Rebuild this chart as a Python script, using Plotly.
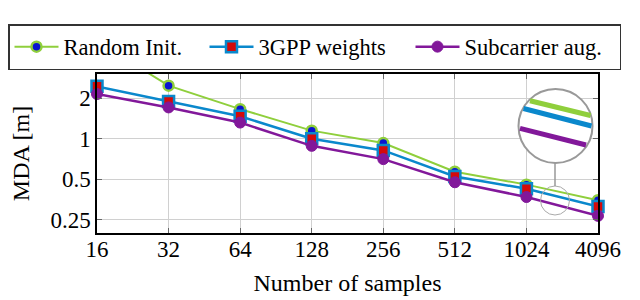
import plotly.graph_objects as go

samples = ["16", "32", "64", "128", "256", "512", "1024", "4096"]
random_init = [5.3, 2.48, 1.66, 1.15, 0.93, 0.57, 0.457, 0.35]
gpp_weights = [2.45, 1.89, 1.47, 1.0, 0.82, 0.525, 0.426, 0.314]
subcarrier_aug = [2.15, 1.71, 1.32, 0.887, 0.707, 0.476, 0.37, 0.268]
y_ticks = [0.25, 0.5, 1, 2]
y_tick_labels = ["0.25", "0.5", "1", "2"]

GREEN = "#8fcf3c"
BLUE = "#0a88cc"
PURPLE = "#82189a"
FONT = "Liberation Serif"

# page has an 8px body margin: figure is drawn at (8, 8) in the window
OFF = 8
W, H = 640 - OFF, 300 - OFF


def px(x):  # window pixel -> paper x
    return (x - OFF) / W


def py(y):  # window pixel -> paper y
    return (H - (y - OFF)) / H


# plot box in window pixels
PL, PR, PT, PB = 97, 598, 74, 233

fig = go.Figure()
fig.add_trace(go.Scatter(
    x=samples, y=random_init, name="Random Init.", mode="lines+markers",
    line=dict(color=GREEN, width=2),
    marker=dict(symbol="circle", size=10, color="#0a14d0", line=dict(color=GREEN, width=2.5)),
    cliponaxis=True, legendwidth=136,
))
fig.add_trace(go.Scatter(
    x=samples, y=gpp_weights, name="3GPP weights", mode="lines+markers",
    line=dict(color=BLUE, width=2.5),
    marker=dict(symbol="square", size=11, color="#d40a0a", line=dict(color=BLUE, width=2.5)),
    cliponaxis=False, legendwidth=147,
))
fig.add_trace(go.Scatter(
    x=samples, y=subcarrier_aug, name="Subcarrier aug.", mode="lines+markers",
    line=dict(color=PURPLE, width=2.5),
    marker=dict(symbol="circle", size=11, color=PURPLE, line=dict(color=PURPLE, width=1)),
    cliponaxis=False, legendwidth=150,
))

shapes = []
cx, cy, r = 555.5, 126, 37
shapes.append(dict(type="circle", xref="paper", yref="paper",
                   x0=px(cx - r), x1=px(cx + r), y0=py(cy + r), y1=py(cy - r),
                   line=dict(color="#999999", width=2), fillcolor="white", layer="above"))
sx, sy, sr = 555, 200.5, 14.5
shapes.append(dict(type="circle", xref="paper", yref="paper",
                   x0=px(sx - sr), x1=px(sx + sr), y0=py(sy + sr), y1=py(sy - sr),
                   line=dict(color="#aaaaaa", width=1), layer="above"))
shapes.append(dict(type="line", xref="paper", yref="paper",
                   x0=px(555), x1=px(555), y0=py(163), y1=py(186),
                   line=dict(color="#999999", width=1.5), layer="above"))
for (x0, y0, x1, y1, c) in [
    (530, 100.7, 590.5, 115.5, GREEN),
    (523.5, 108.5, 591.5, 126, BLUE),
    (520, 128.3, 586, 145, PURPLE),
]:
    shapes.append(dict(type="line", xref="paper", yref="paper",
                       x0=px(x0), x1=px(x1), y0=py(y0), y1=py(y1),
                       line=dict(color=c, width=5), layer="above"))

fig.update_layout(
    width=W, height=H,
    margin=dict(l=0, r=0, t=0, b=0, pad=0, autoexpand=False),
    paper_bgcolor="white", plot_bgcolor="white",
    font=dict(family=FONT, size=23, color="black"),
    showlegend=True,
    legend=dict(
        orientation="h", xref="paper", yref="paper",
        x=0, xanchor="left", y=py(24), yanchor="top",
        bordercolor="#333333", borderwidth=1.5, bgcolor="white",
        font=dict(family=FONT, size=22.5, color="black"),
        itemwidth=44, tracegroupgap=0,
    ),
    shapes=shapes,
    xaxis=dict(
        domain=[px(PL), px(PR)],
        type="category", categoryorder="array", categoryarray=samples,
        range=[0, len(samples) - 1],
        showgrid=True, gridcolor="#d0d0d0", gridwidth=1,
        showline=True, linecolor="black", linewidth=1.5, mirror="ticks",
        ticks="inside", ticklen=5, tickcolor="#666666",
        ticklabelstandoff=-5, automargin=True,
        tickfont=dict(family=FONT, size=23),
        title=dict(text="Number of samples", font=dict(family=FONT, size=24), standoff=13),
        zeroline=False,
    ),
    yaxis=dict(
        domain=[py(PB), py(PT)],
        type="log", range=[-0.699, 0.481],
        tickvals=y_ticks, ticktext=y_tick_labels,
        showgrid=True, gridcolor="#d0d0d0", gridwidth=1,
        showline=True, linecolor="black", linewidth=1.5, mirror="ticks",
        ticks="inside", ticklen=5, tickcolor="#666666",
        automargin=True,
        tickfont=dict(family=FONT, size=23),
        title=dict(text="MDA [m]", font=dict(family=FONT, size=24), standoff=21),
        zeroline=False,
    ),
)

fig.write_html("out.html")
